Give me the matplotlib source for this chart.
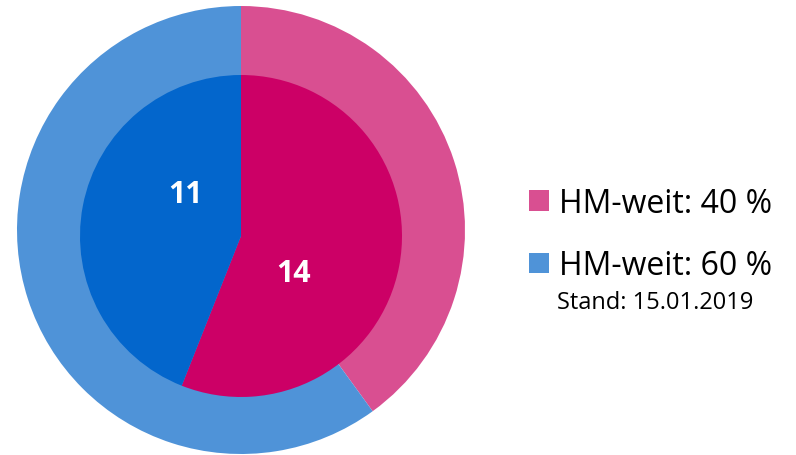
import matplotlib
matplotlib.use('Agg')
import matplotlib.pyplot as plt
from matplotlib.patches import Patch

# outer ring: HM-weit share, inner pie: counts
outer_labels = ['HM-weit: 40 %', 'HM-weit: 60 %']
outer_values = [40, 60]
inner_values = [14, 11]
stand_text = 'Stand: 15.01.2019'

outer_colors = ['#D94F91', '#4F93D8']
inner_colors = ['#CC0066', '#0366CC']

plt.rcParams['font.family'] = ['Open Sans', 'DejaVu Sans']

fig = plt.figure(figsize=(7.96, 4.56), dpi=100)
ax = fig.add_axes([0, 0, 1, 1])

H = 456
# outer ring and inner pie (inner sits a few pixels lower, as in the original)
ax.pie(outer_values, colors=outer_colors, radius=224, center=(241, H - 231),
       startangle=90, counterclock=False, frame=True,
       wedgeprops=dict(linewidth=0))
ax.pie(inner_values, colors=inner_colors, radius=161, center=(241, H - 237),
       startangle=90, counterclock=False, frame=True,
       wedgeprops=dict(linewidth=0))
ax.set_xlim(0, 796)
ax.set_ylim(0, H)
ax.set_aspect('equal')
ax.axis('off')

# value labels inside the inner pie
label_pos = [(294, H - 274), (185, H - 195)]
for v, (x, y) in zip(inner_values, label_pos):
    ax.text(x, y, str(v), color='white', fontsize=22, fontweight='bold',
            ha='center', va='center')

handles = [Patch(facecolor=c, edgecolor='none') for c in outer_colors]
leg = ax.legend(handles, outer_labels, loc='upper left',
                bbox_to_anchor=(529 / 796, 1 - 188 / H),
                frameon=False, fontsize=23, handlelength=0.62, handleheight=0.62,
                handletextpad=0.33, labelspacing=0.92, borderpad=0, borderaxespad=0)

ax.text(557, H - 303, stand_text, fontsize=17, ha='left', va='center')

fig.savefig('out.png', dpi=100)
